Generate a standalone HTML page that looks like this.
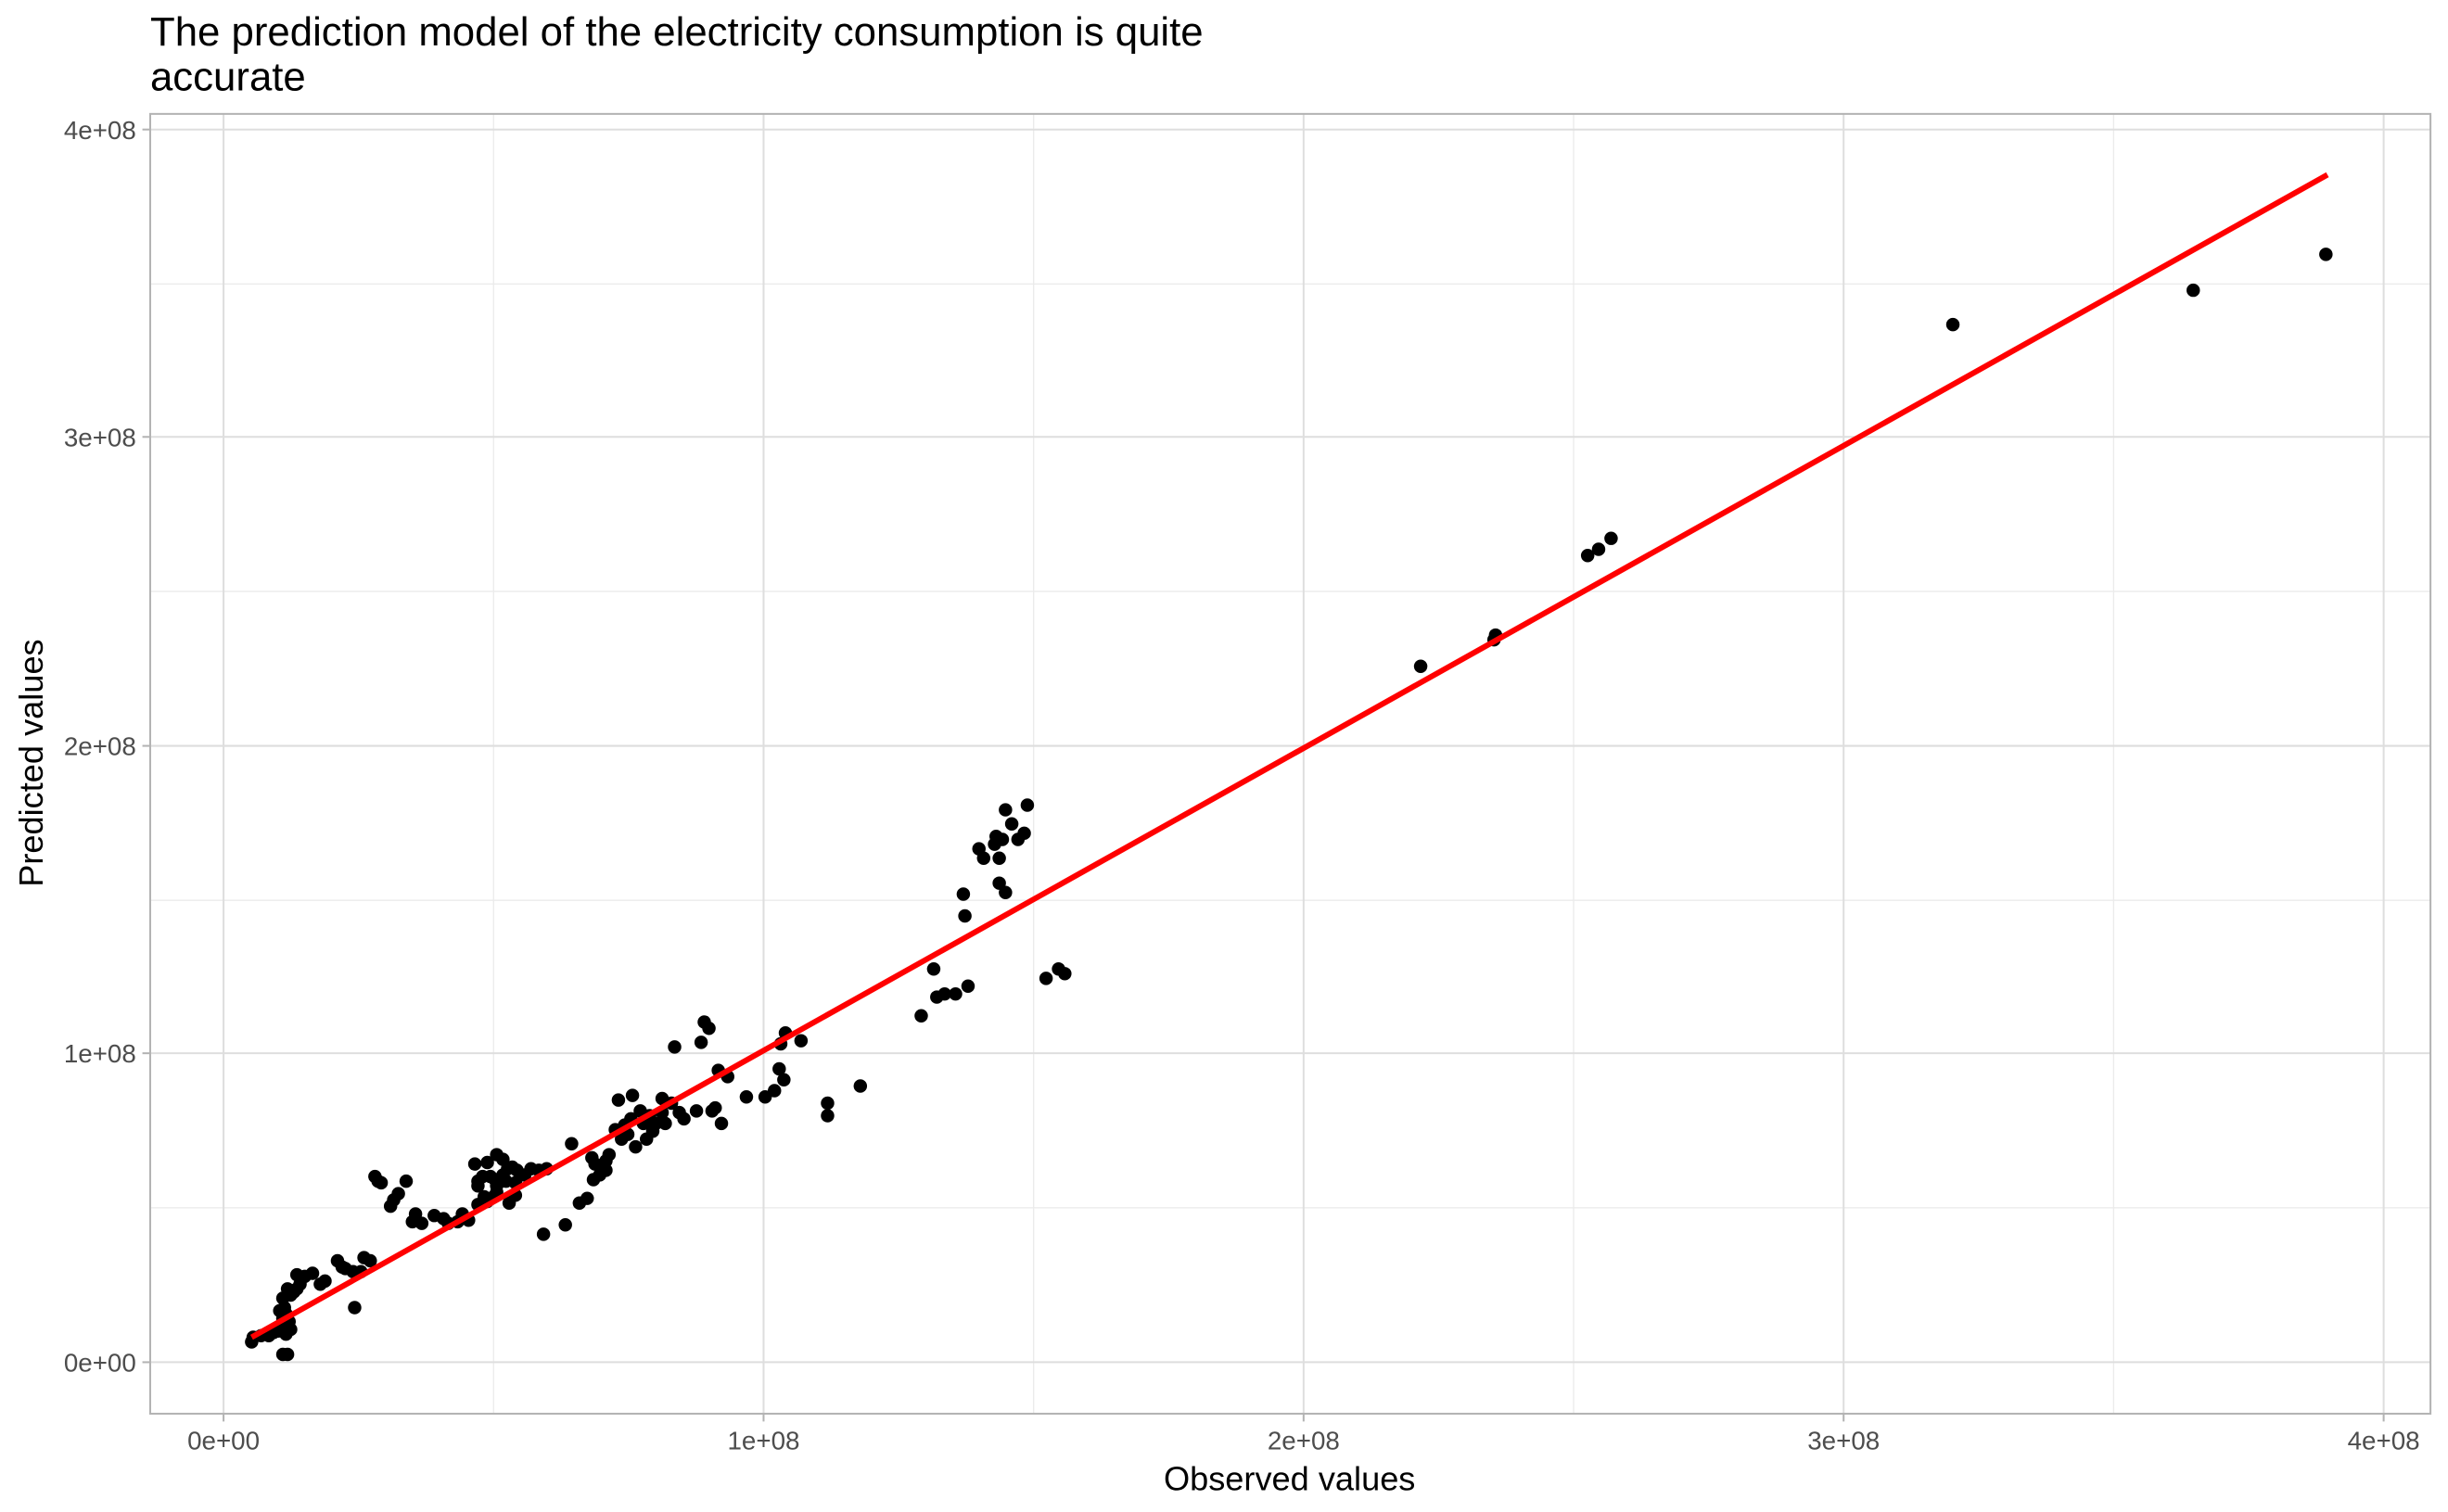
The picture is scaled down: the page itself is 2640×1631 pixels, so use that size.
<!DOCTYPE html>
<html><head><meta charset="utf-8"><style>html,body{margin:0;padding:0;background:#fff}svg{display:block}</style></head>
<body>
<svg width="2640" height="1631" viewBox="0 0 1568 969" xmlns="http://www.w3.org/2000/svg" font-family="Liberation Sans, Arial, sans-serif">
<rect width="1568" height="969" fill="#fff"/>
<g stroke="#ebebeb" stroke-width="0.8">
<line x1="96" x2="1557" y1="774" y2="774"/><line x1="96" x2="1557" y1="577" y2="577"/><line x1="96" x2="1557" y1="379" y2="379"/><line x1="96" x2="1557" y1="182" y2="182"/>
<line y1="73" y2="906" x1="316" x2="316"/><line y1="73" y2="906" x1="662" x2="662"/><line y1="73" y2="906" x1="1008" x2="1008"/><line y1="73" y2="906" x1="1354" x2="1354"/>
</g>
<g stroke="#dedede" stroke-width="1.2">
<line x1="96" x2="1557" y1="873" y2="873"/><line x1="96" x2="1557" y1="675" y2="675"/><line x1="96" x2="1557" y1="478" y2="478"/><line x1="96" x2="1557" y1="280" y2="280"/><line x1="96" x2="1557" y1="83" y2="83"/>
<line y1="73" y2="906" x1="143" x2="143"/><line y1="73" y2="906" x1="489" x2="489"/><line y1="73" y2="906" x1="835" x2="835"/><line y1="73" y2="906" x1="1181" x2="1181"/><line y1="73" y2="906" x1="1527" x2="1527"/>
</g>
<rect x="96" y="73" width="1461" height="833" fill="none" stroke="#b3b3b3" stroke-width="1.2"/>
<g stroke="#b3b3b3" stroke-width="1.2">
<line x1="91" x2="96" y1="873" y2="873"/><line x1="91" x2="96" y1="675" y2="675"/><line x1="91" x2="96" y1="478" y2="478"/><line x1="91" x2="96" y1="280" y2="280"/><line x1="91" x2="96" y1="83" y2="83"/>
<line y1="906" y2="911" x1="143" x2="143"/><line y1="906" y2="911" x1="489" x2="489"/><line y1="906" y2="911" x1="835" x2="835"/><line y1="906" y2="911" x1="1181" x2="1181"/><line y1="906" y2="911" x1="1527" x2="1527"/>
</g>
<g font-size="16.5" fill="#4d4d4d" text-anchor="end">
<text x="87" y="879">0e+00</text><text x="87" y="681">1e+08</text><text x="87" y="484">2e+08</text><text x="87" y="286">3e+08</text><text x="87" y="89">4e+08</text>
</g>
<g font-size="16.5" fill="#4d4d4d" text-anchor="middle">
<text x="143" y="929">0e+00</text><text x="489" y="929">1e+08</text><text x="835" y="929">2e+08</text><text x="1181" y="929">3e+08</text><text x="1527" y="929">4e+08</text>
</g>
<text x="826" y="955" font-size="21.5" text-anchor="middle" fill="#000">Observed values</text>
<text transform="translate(27,489) rotate(-90)" font-size="21.5" text-anchor="middle" fill="#000">Predicted values</text>
<text x="96" y="29" font-size="26" fill="#000">The prediction model of the electricity consumption is quite</text>
<text x="96" y="58" font-size="26" fill="#000">accurate</text>
<g fill="#000">
<circle cx="161" cy="860" r="4.3"/><circle cx="162" cy="857" r="4.3"/><circle cx="167" cy="856" r="4.3"/><circle cx="172" cy="856" r="4.3"/><circle cx="175" cy="854" r="4.3"/><circle cx="178" cy="853" r="4.3"/><circle cx="180" cy="851" r="4.3"/><circle cx="183" cy="849" r="4.3"/><circle cx="185" cy="847" r="4.3"/><circle cx="181" cy="832" r="4.3"/><circle cx="182" cy="838" r="4.3"/><circle cx="183" cy="842" r="4.3"/><circle cx="184" cy="826" r="4.3"/><circle cx="186" cy="830" r="4.3"/><circle cx="188" cy="828" r="4.3"/><circle cx="190" cy="826" r="4.3"/><circle cx="192" cy="823" r="4.3"/><circle cx="195" cy="818" r="4.3"/><circle cx="190" cy="817" r="4.3"/><circle cx="200" cy="816" r="4.3"/><circle cx="181" cy="868" r="4.3"/><circle cx="184" cy="868" r="4.3"/><circle cx="186" cy="852" r="4.3"/><circle cx="183" cy="855" r="4.3"/><circle cx="179" cy="840" r="4.3"/><circle cx="181" cy="845" r="4.3"/>
<circle cx="205" cy="823" r="4.3"/><circle cx="208" cy="821" r="4.3"/><circle cx="216" cy="808" r="4.3"/><circle cx="219" cy="812" r="4.3"/><circle cx="221" cy="813" r="4.3"/><circle cx="226" cy="815" r="4.3"/><circle cx="227" cy="838" r="4.3"/><circle cx="231" cy="815" r="4.3"/><circle cx="233" cy="806" r="4.3"/><circle cx="237" cy="808" r="4.3"/><circle cx="240" cy="754" r="4.3"/><circle cx="242" cy="757" r="4.3"/><circle cx="244" cy="758" r="4.3"/><circle cx="250" cy="773" r="4.3"/><circle cx="252" cy="769" r="4.3"/><circle cx="255" cy="765" r="4.3"/><circle cx="260" cy="757" r="4.3"/><circle cx="264" cy="783" r="4.3"/><circle cx="266" cy="778" r="4.3"/><circle cx="270" cy="784" r="4.3"/><circle cx="278" cy="779" r="4.3"/><circle cx="284" cy="781" r="4.3"/><circle cx="287" cy="784" r="4.3"/><circle cx="293" cy="783" r="4.3"/><circle cx="296" cy="778" r="4.3"/><circle cx="300" cy="782" r="4.3"/><circle cx="306" cy="760" r="4.3"/><circle cx="309" cy="754" r="4.3"/><circle cx="306" cy="757" r="4.3"/><circle cx="314" cy="754" r="4.3"/><circle cx="317" cy="756" r="4.3"/><circle cx="322" cy="753" r="4.3"/><circle cx="325" cy="749" r="4.3"/><circle cx="328" cy="748" r="4.3"/><circle cx="331" cy="750" r="4.3"/><circle cx="334" cy="753" r="4.3"/><circle cx="306" cy="772" r="4.3"/><circle cx="310" cy="767" r="4.3"/><circle cx="312" cy="770" r="4.3"/><circle cx="316" cy="767" r="4.3"/><circle cx="318" cy="764" r="4.3"/><circle cx="304" cy="746" r="4.3"/><circle cx="312" cy="745" r="4.3"/><circle cx="318" cy="740" r="4.3"/><circle cx="322" cy="743" r="4.3"/><circle cx="318" cy="760" r="4.3"/><circle cx="324" cy="757" r="4.3"/><circle cx="330" cy="758" r="4.3"/><circle cx="336" cy="753" r="4.3"/><circle cx="340" cy="749" r="4.3"/><circle cx="345" cy="750" r="4.3"/><circle cx="348" cy="791" r="4.3"/><circle cx="350" cy="749" r="4.3"/><circle cx="330" cy="766" r="4.3"/><circle cx="326" cy="771" r="4.3"/><circle cx="362" cy="785" r="4.3"/><circle cx="366" cy="733" r="4.3"/><circle cx="371" cy="771" r="4.3"/><circle cx="376" cy="768" r="4.3"/><circle cx="379" cy="742" r="4.3"/><circle cx="381" cy="746" r="4.3"/><circle cx="380" cy="756" r="4.3"/><circle cx="384" cy="753" r="4.3"/><circle cx="388" cy="750" r="4.3"/><circle cx="388" cy="744" r="4.3"/><circle cx="390" cy="740" r="4.3"/><circle cx="396" cy="705" r="4.3"/><circle cx="394" cy="724" r="4.3"/><circle cx="398" cy="730" r="4.3"/><circle cx="400" cy="721" r="4.3"/><circle cx="402" cy="727" r="4.3"/><circle cx="404" cy="717" r="4.3"/><circle cx="405" cy="702" r="4.3"/><circle cx="407" cy="735" r="4.3"/><circle cx="410" cy="712" r="4.3"/><circle cx="412" cy="720" r="4.3"/><circle cx="414" cy="730" r="4.3"/><circle cx="416" cy="715" r="4.3"/><circle cx="418" cy="725" r="4.3"/><circle cx="420" cy="720" r="4.3"/><circle cx="424" cy="713" r="4.3"/><circle cx="424" cy="704" r="4.3"/><circle cx="426" cy="720" r="4.3"/><circle cx="430" cy="707" r="4.3"/><circle cx="432" cy="671" r="4.3"/><circle cx="435" cy="713" r="4.3"/><circle cx="438" cy="717" r="4.3"/><circle cx="446" cy="712" r="4.3"/><circle cx="449" cy="668" r="4.3"/><circle cx="451" cy="655" r="4.3"/><circle cx="454" cy="659" r="4.3"/><circle cx="456" cy="712" r="4.3"/><circle cx="458" cy="710" r="4.3"/><circle cx="460" cy="686" r="4.3"/><circle cx="462" cy="720" r="4.3"/><circle cx="466" cy="690" r="4.3"/><circle cx="478" cy="703" r="4.3"/><circle cx="490" cy="703" r="4.3"/><circle cx="496" cy="699" r="4.3"/><circle cx="499" cy="685" r="4.3"/><circle cx="500" cy="669" r="4.3"/><circle cx="502" cy="692" r="4.3"/><circle cx="503" cy="662" r="4.3"/><circle cx="513" cy="667" r="4.3"/><circle cx="530" cy="715" r="4.3"/><circle cx="530" cy="707" r="4.3"/><circle cx="551" cy="696" r="4.3"/>
<circle cx="590" cy="651" r="4.3"/><circle cx="598" cy="621" r="4.3"/><circle cx="600" cy="639" r="4.3"/><circle cx="605" cy="637" r="4.3"/><circle cx="612" cy="637" r="4.3"/><circle cx="620" cy="632" r="4.3"/><circle cx="617" cy="573" r="4.3"/><circle cx="618" cy="587" r="4.3"/><circle cx="627" cy="544" r="4.3"/><circle cx="630" cy="550" r="4.3"/><circle cx="637" cy="541" r="4.3"/><circle cx="640" cy="550" r="4.3"/><circle cx="638" cy="536" r="4.3"/><circle cx="640" cy="566" r="4.3"/><circle cx="642" cy="538" r="4.3"/><circle cx="644" cy="572" r="4.3"/><circle cx="648" cy="528" r="4.3"/><circle cx="652" cy="538" r="4.3"/><circle cx="656" cy="534" r="4.3"/><circle cx="658" cy="516" r="4.3"/><circle cx="644" cy="519" r="4.3"/><circle cx="670" cy="627" r="4.3"/><circle cx="678" cy="621" r="4.3"/><circle cx="682" cy="624" r="4.3"/>
<circle cx="910" cy="427" r="4.3"/><circle cx="957" cy="410" r="4.3"/><circle cx="958" cy="407" r="4.3"/><circle cx="1017" cy="356" r="4.3"/><circle cx="1024" cy="352" r="4.3"/><circle cx="1032" cy="345" r="4.3"/><circle cx="1251" cy="208" r="4.3"/><circle cx="1405" cy="186" r="4.3"/><circle cx="1490" cy="163" r="4.3"/>
</g>
<line x1="161" y1="857" x2="1491" y2="112" stroke="#ff0000" stroke-width="3.6"/>
</svg>
</body></html>
